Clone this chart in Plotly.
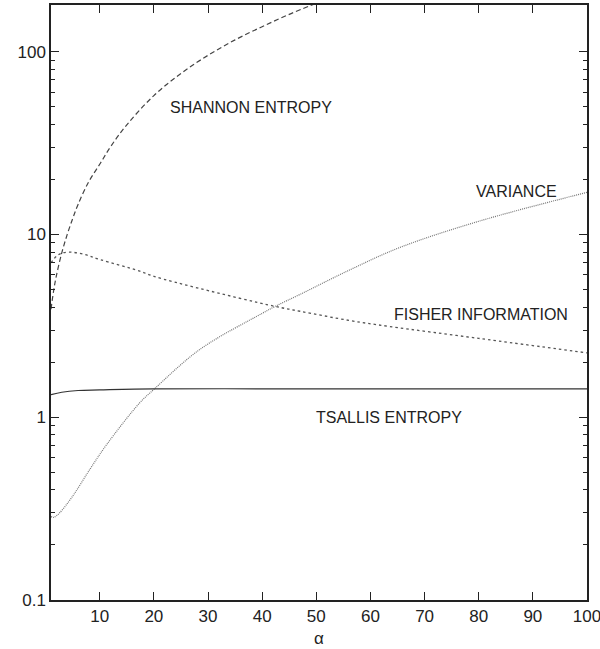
import plotly.graph_objects as go

# --- data ---
shannon_x = [1, 1.5, 2, 3, 4, 5, 6, 8, 10, 12, 15, 20, 25, 30, 35, 40, 45, 50]
shannon_y = [3.9, 4.95, 5.95, 7.95, 10.0, 12.2, 14.6, 19.5, 24.2, 30.2, 39.8, 57.5, 76, 95.5, 116, 137, 160, 184]

fisher_x = [1, 2, 3, 4.5, 7, 10, 17.4, 20, 28.5, 42.4, 47, 56.2, 63.4, 80, 100]
fisher_y = [7.0, 7.6, 7.9, 8.0, 7.8, 7.3, 6.3, 5.9, 5.06, 4.04, 3.8, 3.38, 3.14, 2.7, 2.25]

var_x = [1, 1.5, 2.6, 5, 8.2, 11.3, 17.4, 20, 28.5, 40, 42.4, 47, 56.2, 65.5, 80, 100]
var_y = [0.286, 0.283, 0.30, 0.37, 0.52, 0.71, 1.2, 1.42, 2.35, 3.7, 4.04, 4.7, 6.4, 8.5, 11.8, 17]

tsallis_x = [1, 3, 6, 10, 20, 40, 60, 80, 100]
tsallis_y = [1.33, 1.37, 1.40, 1.41, 1.43, 1.43, 1.43, 1.43, 1.43]

x_ticks = [10, 20, 30, 40, 50, 60, 70, 80, 90, 100]
y_ticks = [0.1, 1, 10, 100]
y_ticktext = ["0.1", "1", "10", "100"]
y_minor = [m * d for d in [0.1, 1, 10, 100] for m in range(2, 10) if m * d < 180]

labels = ["SHANNON ENTROPY", "VARIANCE", "FISHER INFORMATION", "TSALLIS ENTROPY"]
x_title = "α"

fig = go.Figure()
fig.add_trace(go.Scatter(x=shannon_x, y=shannon_y, mode="lines", line_shape="spline",
                         line=dict(color="#444", width=1.2, dash="5px,3px")))
fig.add_trace(go.Scatter(x=fisher_x, y=fisher_y, mode="lines", line_shape="spline",
                         line=dict(color="#555", width=1.3, dash="2.5px,3px")))
fig.add_trace(go.Scatter(x=var_x, y=var_y, mode="lines", line_shape="spline",
                         line=dict(color="#777", width=1.2, dash="1px,1px")))
fig.add_trace(go.Scatter(x=tsallis_x, y=tsallis_y, mode="lines", line_shape="spline",
                         line=dict(color="#333", width=1.2)))

label_pos = [(0.373, 0.827), (0.869, 0.686), (0.802, 0.479), (0.631, 0.306)]
for t, (px, py) in zip(labels, label_pos):
    fig.add_annotation(text=t, x=px, y=py, xref="paper", yref="paper",
                       xanchor="center", yanchor="middle",
                       showarrow=False, font=dict(size=16, color="#222"))

fig.add_annotation(text=x_title, x=0.5, y=-0.064, xref="paper", yref="paper",
                   xanchor="center", yanchor="middle",
                   showarrow=False, font=dict(size=17, color="#222"))

fig.update_layout(
    width=600, height=649,
    margin=dict(l=51, r=13, t=5, b=49),
    paper_bgcolor="white", plot_bgcolor="white",
    showlegend=False,
    font=dict(family="Liberation Sans, Arial, sans-serif", color="#222"),
)
fig.update_xaxes(
    range=[1, 100], tickvals=x_ticks, ticks="inside", ticklen=8, tickwidth=1.2,
    tickcolor="#222", showline=True, linecolor="#222", linewidth=1.5, mirror="ticks",
    showgrid=False, zeroline=False, tickfont=dict(size=17), automargin=False,
    ticklabeloverflow="allow",
)
fig.update_yaxes(
    type="log", range=[-1, 2.2553], tickvals=y_ticks, ticktext=y_ticktext,
    ticks="inside", ticklen=8, tickwidth=1.2, tickcolor="#222",
    showline=True, linecolor="#222", linewidth=1.5, mirror="ticks",
    showgrid=False, zeroline=False, tickfont=dict(size=17), automargin=False,
    ticklabeloverflow="allow",
    minor=dict(tickvals=y_minor, ticks="inside", ticklen=4, tickcolor="#222", showgrid=False),
)

fig.write_html("out.html", config={"displayModeBar": False},
               post_script="document.body.style.margin='0';document.body.style.overflow='hidden';")
